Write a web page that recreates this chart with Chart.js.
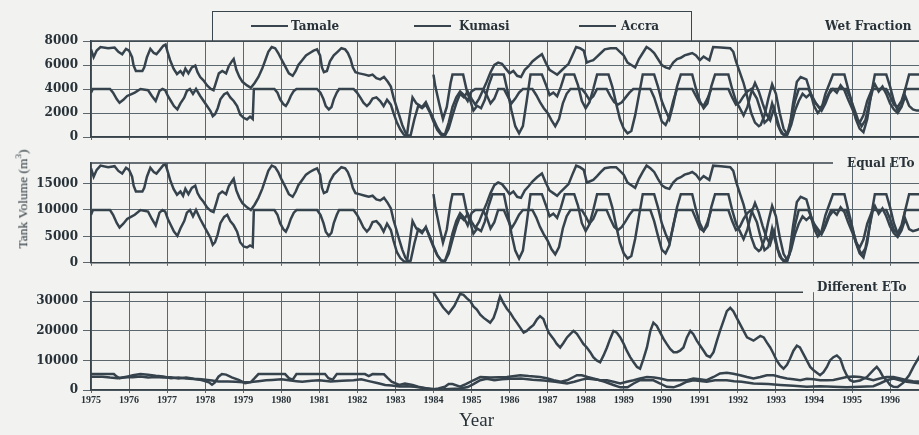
<!DOCTYPE html>
<html><head><meta charset="utf-8">
<script src="https://cdn.jsdelivr.net/npm/chart.js@4.4.1/dist/chart.umd.min.js"></script>
<style>
html,body{margin:0;padding:0;background:#f2f3f1;width:919px;height:435px;overflow:hidden;position:relative;}
.pc{position:absolute;left:0;}
.t{position:absolute;white-space:nowrap;color:#283238;font-family:"DejaVu Serif",serif;font-weight:bold;font-size:12px;line-height:14px;}
#legend{position:absolute;left:212px;top:11px;width:480px;height:30px;border:1.5px solid #3a454c;border-bottom:none;box-sizing:border-box;}
.ls{position:absolute;height:2px;background:#38454f;}
#ytitle{position:absolute;left:22px;top:199px;transform:translate(-50%,-50%) rotate(-90deg);font-family:"Liberation Serif",serif;font-size:13.5px;color:#283238;white-space:nowrap;}
#xtitle{position:absolute;left:459px;top:409px;font-family:"Liberation Serif",serif;font-size:19px;color:#283238;}
</style></head><body>
<canvas id="c1" class="pc" width="919" height="150" style="top:0px"></canvas>
<canvas id="c2" class="pc" width="919" height="125" style="top:150px"></canvas>
<canvas id="c3" class="pc" width="919" height="130" style="top:280px"></canvas>
<div id="legend"></div>
<div id="ytitle">Tank Volume (m<sup style="font-size:9px">3</sup>)</div>
<div id="xtitle">Year</div>
<script>
// ---------- data ----------
const seriesNames = ['Tamale', 'Kumasi', 'Accra'];
const panelTitles = ['Wet Fraction', 'Equal ETo', 'Different ETo'];
const yearTicks = [1975,1976,1977,1978,1979,1980,1981,1982,1983,1984,1985,1986,1987,1988,1989,1990,1991,1992,1993,1994,1995,1996];
const wetTicks = [0, 2000, 4000, 6000, 8000];
const equalTicks = [0, 5000, 10000, 15000];
const diffTicks = [0, 10000, 20000, 30000];

const tamaleYears = [
1975.00,1975.05,1975.50,1975.58,1975.68,1975.75,1975.85,1975.95,
1976.05,1976.15,1976.30,1976.50,1976.60,1976.70,1976.80,1976.88,1976.95,
1977.02,1977.10,1977.18,1977.27,1977.35,1977.45,1977.52,1977.60,1977.68,1977.76,1977.87,1977.96,
1978.05,1978.14,1978.20,1978.26,1978.33,1978.40,1978.50,1978.58,1978.66,1978.75,1978.84,1978.92,
1979.01,1979.10,1979.18,1979.25,1979.28,1979.82,1979.90,1979.97,
1980.06,1980.12,1980.18,1980.25,1980.33,1980.40,1980.94,
1981.03,1981.11,1981.17,1981.25,1981.32,1981.38,1981.46,1981.52,1981.90,1981.99,
1982.08,1982.16,1982.25,1982.32,1982.40,1982.50,1982.60,1982.69,1982.78,1982.88,1982.95,
1983.04,1983.13,1983.22,1983.30,1983.36,1983.45,1983.55,1983.70,1983.80,1983.90,
1984.00,1984.10,1984.20,1984.30,1984.40,1984.50,1984.60,1984.70,1984.80,1984.90,
1985.00,1985.10,1985.30,1985.40,1985.50,1985.60,1985.70,1985.85,1985.95,
1986.05,1986.15,1986.25,1986.35,1986.60,1986.70,1986.80,1986.90,
1987.00,1987.10,1987.20,1987.30,1987.40,1987.50,1987.60,1987.90,
1988.00,1988.10,1988.20,1988.30,1988.55,1988.65,1988.75,1988.85,1988.95,
1989.05,1989.15,1989.25,1989.70,1989.80,1989.90,
1990.00,1990.10,1990.20,1990.30,1990.40,1990.80,1990.90,
1991.00,1991.10,1991.20,1991.30,1991.75,1991.85,1991.95,
1992.05,1992.15,1992.25,1992.35,1992.50,1992.60,1992.70,1992.80,1992.90,
1993.00,1993.10,1993.20,1993.30,1993.40,1993.50,1993.60,1993.85,1993.95,
1994.05,1994.15,1994.25,1994.35,1994.45,1994.85,1994.95,
1995.05,1995.15,1995.25,1995.35,1995.45,1995.55,1995.90,
1996.00,1996.10,1996.20,1996.30,1996.40,1996.80];
const tamaleWet = [
3700,4000,4000,3700,3140,2860,3100,3420,
3560,3700,4000,3900,3420,3000,3840,4000,3900,
3420,3000,2580,2300,2800,3280,3840,4000,3600,4000,3420,3000,
2580,2160,1740,1900,2400,3140,3560,3700,3300,3000,2580,1880,
1600,1460,1700,1500,4000,4000,3700,3140,
2720,2580,2900,3420,3840,4000,4000,
3700,3140,2580,2300,2500,3140,3700,4000,4000,3700,
3280,2860,2580,2800,3200,3300,3000,2580,3100,2700,2000,
1200,620,200,80,1500,3300,2800,2500,2900,2200,
1500,800,300,200,1200,2500,3300,3800,3500,3000,
3800,4000,4000,3500,2800,3200,4000,4000,3400,
2800,3200,3700,4000,4000,3500,2900,2400,
2000,1400,900,1500,2800,3600,4000,4000,
3600,3100,3400,4000,4000,3400,2900,2700,2900,
3300,3700,4000,4000,3300,2300,
1300,1000,1700,3000,4000,4000,3400,
2800,2600,3200,4000,4000,3300,2700,
2900,3400,3800,4000,3200,2200,1200,1500,2800,
1800,700,200,300,1500,3000,4000,4000,3400,
2800,2400,2700,3400,4000,4000,3300,
2400,1500,900,1400,2800,4000,4000,
3400,2700,2500,3000,4000,4000];
const tamaleEqual = [
9100,10000,10000,9100,7500,6700,7400,8300,
8700,9100,10000,9700,8300,7100,9500,10000,9700,
8300,7100,5900,5100,6500,7900,9500,10000,8800,10000,8300,7100,
5900,4700,3400,3900,5400,7500,8700,9100,7900,7100,5900,3900,
3100,2900,3300,3000,10000,10000,9100,7500,
6300,5900,6800,8300,9500,10000,10000,
9100,7500,5900,5100,5700,7500,9100,10000,10000,9100,
7900,6700,5900,6500,7700,7900,7100,5900,7400,6200,4200,
2000,900,300,100,3000,7900,6500,5600,6800,4800,
3000,1400,400,300,2400,5600,7900,9400,8600,7100,
9400,10000,10000,8600,6500,7700,10000,10000,8300,
6500,7700,9100,10000,10000,8600,6800,5400,
4200,2600,1600,3000,6500,8800,10000,10000,
8800,7400,8300,10000,10000,8300,6800,6200,6800,
7900,9100,10000,10000,7900,5100,
2500,1800,3300,7100,10000,10000,8300,
6500,6000,7700,10000,10000,7900,6200,
6800,8300,9400,10000,7700,4800,2400,3000,6500,
3600,1200,300,400,3000,7100,10000,10000,8300,
6500,5400,6200,8300,10000,10000,7900,
5400,3000,1600,2700,6500,10000,10000,
8300,6200,5600,7100,10000,10000];

const kumasiYears = [
1975.00,1975.07,1975.15,1975.25,1975.45,1975.62,1975.72,1975.82,1975.92,
1976.00,1976.08,1976.12,1976.18,1976.35,1976.40,1976.47,1976.56,1976.65,1976.72,1976.80,1976.90,1976.96,
1977.02,1977.08,1977.17,1977.26,1977.35,1977.42,1977.48,1977.56,1977.65,1977.74,1977.80,1977.87,1977.96,
1978.05,1978.15,1978.22,1978.30,1978.36,1978.45,1978.55,1978.62,1978.70,1978.75,1978.82,1978.90,1978.98,
1979.10,1979.20,1979.30,1979.40,1979.50,1979.58,1979.66,1979.75,1979.84,1979.92,
1980.00,1980.10,1980.20,1980.30,1980.38,1980.45,1980.55,1980.65,1980.75,1980.85,1980.94,
1981.02,1981.07,1981.12,1981.20,1981.28,1981.38,1981.48,1981.58,1981.68,1981.75,1981.82,1981.88,1981.95,
1982.05,1982.20,1982.30,1982.40,1982.50,1982.60,1982.70,1982.80,1982.88,1982.95,
1983.02,1983.10,1983.18,1983.26,1983.33,1983.40,1983.50,1983.60,1983.70,1983.80,1983.90,
1984.00,1984.10,1984.20,1984.30,1984.40,1984.50,1984.60,1984.70,1984.80,1984.90,
1985.00,1985.10,1985.20,1985.30,1985.40,1985.50,1985.60,1985.70,1985.80,1985.90,
1986.00,1986.10,1986.20,1986.30,1986.40,1986.50,1986.60,1986.72,1986.85,1986.95,
1987.05,1987.15,1987.25,1987.35,1987.45,1987.55,1987.65,1987.75,1987.85,1987.95,
1988.03,1988.10,1988.20,1988.30,1988.40,1988.50,1988.65,1988.80,1988.90,
1989.00,1989.10,1989.20,1989.30,1989.40,1989.50,1989.60,1989.70,1989.80,1989.90,
1990.00,1990.10,1990.20,1990.30,1990.40,1990.50,1990.60,1990.70,1990.80,1990.90,
1991.00,1991.10,1991.25,1991.35,1991.55,1991.80,1991.88,1991.95,
1992.05,1992.15,1992.25,1992.35,1992.45,1992.55,1992.60,1992.70,1992.80,1992.90,
1993.00,1993.10,1993.20,1993.30,1993.40,1993.50,1993.60,1993.70,1993.80,1993.90,
1994.00,1994.10,1994.20,1994.30,1994.40,1994.50,1994.60,1994.70,1994.80,1994.90,
1995.00,1995.10,1995.20,1995.30,1995.40,1995.50,1995.60,1995.70,1995.80,1995.90,
1996.00,1996.10,1996.20,1996.30,1996.40,1996.50,1996.60,1996.70,1996.80];
const kumasiWet = [
7300,6650,7200,7500,7400,7450,7100,6900,7350,
7200,6650,5950,5500,5500,5800,6650,7350,7000,6900,7200,7600,7700,
7000,6400,5700,5250,5500,5200,5700,5300,5800,5950,5400,5000,4700,
4300,4000,3900,4700,5300,5500,5300,5900,6300,6500,5600,5000,4600,
4300,4100,4500,5000,5700,6400,7100,7500,7400,7000,
6500,5900,5300,5100,5500,6000,6400,6800,7000,7200,7300,
6800,5800,5400,5500,6300,6800,7100,7400,7300,7000,6500,5800,5400,
5300,5200,5100,5200,4900,4800,5000,4600,4200,3300,
2600,1800,1000,400,100,150,1500,2600,2400,2700,2100,
1300,600,200,100,700,1800,2800,3600,3300,3800,
3200,2700,3200,3900,4600,5400,6000,6200,6100,5700,
5300,5500,5100,5000,5600,5900,6300,6600,6900,6200,
5600,5400,5200,5500,5800,6100,6800,7500,7400,7200,
6200,6300,6400,6700,7000,7300,7400,7400,7100,
6800,6200,6000,5800,6500,7000,7500,7300,7000,6500,
6000,5800,5700,6200,6500,6600,6800,6900,7000,6800,
6400,6700,6400,7500,7450,7400,7100,6300,
5400,4500,3300,2000,1200,900,1000,1800,3200,4400,
3600,2000,700,200,1000,2200,3000,3600,3300,3600,
3000,2600,2200,2800,3600,4000,3700,4300,3900,3100,
2400,1600,1200,1800,3000,3800,4400,3800,4200,3600,
2800,2300,2000,2500,3400,2600,2300,2200,2200];
const kumasiEqual = [
17900,16300,17600,18400,18100,18300,17400,16900,18000,
17600,16300,14600,13500,13500,14200,16300,18000,17200,16900,17600,18500,18600,
17200,15700,14000,12900,13500,12700,14000,13000,14200,14600,13200,12300,11500,
10500,9800,9600,11500,13000,13500,13000,14500,15400,15900,13700,12300,11300,
10500,10000,11000,12300,14000,15700,17400,18400,18100,17200,
15900,14500,13000,12500,13500,14700,15700,16700,17200,17600,17900,
16700,14200,13200,13500,15400,16700,17400,18100,17900,17200,15900,14200,13200,
13000,12700,12500,12700,12000,11800,12300,11300,10300,8100,
6400,4400,2500,1000,300,400,3700,6400,5900,6600,5100,
3200,1500,500,300,1700,4400,6900,8800,8100,9300,
7800,6600,7800,9600,11300,13200,14700,15200,14900,14000,
13000,13500,12500,12300,13700,14500,15400,16200,16900,15200,
13700,13200,12700,13500,14200,14900,16700,18400,18100,17600,
15200,15400,15700,16400,17200,17900,18100,18100,17400,
16700,15200,14700,14200,15900,17200,18400,17900,17200,15900,
14700,14200,14000,15200,15900,16200,16700,16900,17200,16700,
15700,16400,15700,18400,18300,18100,17400,15400,
13200,11000,8100,4900,2900,2200,2500,4400,7800,10800,
8800,4900,1700,500,2500,5400,7400,8800,8100,8800,
7400,6400,5400,6900,8800,9800,9100,10500,9600,7600,
5900,3900,2900,4400,7400,9300,10800,9300,10300,8800,
6900,5600,4900,6100,8300,6400,6000,6200,6500];

const accraYears = [
1984.00,1984.05,1984.15,1984.25,1984.35,1984.45,1984.50,1984.78,1984.88,1984.98,
1985.05,1985.15,1985.25,1985.35,1985.45,1985.55,1985.85,1985.95,
1986.05,1986.15,1986.25,1986.35,1986.45,1986.55,1986.85,1986.95,
1987.05,1987.15,1987.25,1987.35,1987.45,1987.70,1987.80,1987.90,
1988.00,1988.10,1988.20,1988.30,1988.60,1988.70,1988.80,1988.90,
1989.00,1989.10,1989.20,1989.30,1989.40,1989.50,1989.80,1989.90,
1990.00,1990.10,1990.20,1990.30,1990.40,1990.50,1990.80,1990.90,
1991.00,1991.10,1991.20,1991.30,1991.40,1991.75,1991.85,1991.95,
1992.05,1992.15,1992.25,1992.35,1992.45,1992.55,1992.65,1992.75,1992.85,1992.95,
1993.05,1993.15,1993.25,1993.35,1993.45,1993.55,1993.65,1993.80,1993.90,
1994.00,1994.10,1994.20,1994.30,1994.40,1994.50,1994.80,1994.90,
1995.00,1995.10,1995.20,1995.30,1995.40,1995.50,1995.60,1995.90,
1996.00,1996.10,1996.20,1996.30,1996.40,1996.50,1996.80];
const accraWet = [
5200,4200,2800,1500,2500,4500,5200,5200,3800,2900,
2200,2600,2400,3100,4300,5200,5200,3800,
2200,900,300,900,3000,5200,5200,4400,
3500,3700,3400,4200,5200,5200,4300,3000,
2400,2900,4000,5200,5200,4200,2800,1500,
700,300,500,1800,3500,5200,5200,4200,
3000,2200,1500,2700,4200,5200,5200,4000,
3000,2400,2800,4200,5200,5200,4000,3000,
2400,1800,2500,3700,4500,3800,2800,1900,1400,2400,
1000,300,100,600,2800,4600,5000,4800,3800,
2600,2000,2400,3600,4400,5200,5200,4000,
2800,1500,700,400,1500,3500,5200,5200,
4200,3000,2200,2600,4000,5200,5200];
const accraEqual = [
13000,10500,7000,3800,6300,11300,13000,13000,9500,7300,
5500,6500,6000,7800,10800,13000,13000,9500,
5500,2300,800,2300,7500,13000,13000,11000,
8800,9300,8500,10500,13000,13000,10800,7500,
6000,7300,10000,13000,13000,10500,7000,3800,
1800,800,1300,4500,8800,13000,13000,10500,
7500,5500,3800,6800,10500,13000,13000,10000,
7500,6000,7000,10500,13000,13000,10000,7500,
6000,4500,6300,9300,11300,9500,7000,4800,3500,6000,
2500,800,300,1500,7000,11500,12500,12000,9500,
6500,5000,6000,9000,11000,13000,13000,10000,
7000,3800,1800,1000,3800,8800,13000,13000,
10500,7500,5500,6500,10000,13000,13000];

const tamaleDiffYears = [
1975.00,1975.60,1975.68,1975.75,1975.90,1976.10,1976.30,1976.50,1976.70,1976.90,
1977.10,1977.30,1977.50,1977.70,1977.90,1978.10,1978.18,1978.25,1978.35,1978.44,1978.55,1978.70,1978.88,
1979.05,1979.20,1979.30,1979.40,1980.10,1980.20,1980.30,1980.40,1981.15,1981.24,1981.35,1981.46,
1982.20,1982.30,1982.40,1982.70,1982.80,1982.90,1983.10,1983.25,1983.45,1983.60,1983.78,1983.96,
1984.13,1984.30,1984.40,1984.50,1984.70,1984.85,1985.05,1985.23,1985.50,1985.93,
1986.28,1986.50,1986.80,1986.98,1987.16,1987.35,1987.51,1987.68,1987.77,1987.90,
1988.05,1988.20,1988.38,1988.56,1988.73,1988.91,1989.08,1989.26,1989.43,1989.61,1989.80,1989.96,
1990.15,1990.31,1990.66,1990.83,1991.00,1991.18,1991.36,1991.53,1991.71,1991.88,
1992.06,1992.24,1992.41,1992.59,1992.76,1992.94,1993.11,1993.29,1993.46,1993.64,1993.81,1993.99,
1994.16,1994.34,1994.51,1994.69,1994.86,1995.04,1995.21,1995.39,1995.56,1995.73,1995.91,
1996.09,1996.26,1996.44,1996.60,1996.80];
const tamaleDiff = [
5400,5400,4500,4000,4300,5000,5400,5200,4800,4600,
4000,4200,3900,3700,3400,2600,1800,2500,4500,5400,5200,4300,3400,
2300,2700,4000,5400,5400,4000,3500,5400,5400,4000,3500,5400,
5400,4700,5400,5300,4000,2800,1700,2200,1700,1100,600,200,
500,1100,2000,2000,1100,2000,3300,4400,4200,4400,
5000,4700,4400,4000,3300,2800,3300,4400,5000,5000,
4400,3900,3300,3300,2800,2200,2800,3300,3900,4400,4200,3900,
3300,3300,3300,3900,3600,3300,4400,5600,5800,5500,
5000,4400,3900,4400,5000,5000,4400,3900,3600,3300,3800,3600,
3300,3300,3400,3900,4400,4600,4400,3900,3300,3900,4400,
4400,3900,3300,3000,2800];

const kumasiDiffYears = [
1975.00,1975.30,1975.50,1975.70,1975.90,1976.10,1976.30,1976.50,1976.70,1976.90,
1977.10,1977.30,1977.50,1977.70,1977.90,1978.18,1978.35,1978.60,1978.80,
1979.00,1979.20,1979.40,1979.60,1979.76,1980.00,1980.20,1980.40,1980.55,1980.80,
1981.00,1981.30,1981.60,1981.90,1982.10,1982.30,1982.55,1982.73,1982.90,
1983.10,1983.30,1983.50,1983.70,1983.87,1984.00,1984.20,1984.40,1984.70,1984.90,
1985.05,1985.23,1985.40,1985.60,1985.80,1986.00,1986.30,1986.60,1986.90,
1987.20,1987.51,1987.70,1987.90,1988.03,1988.30,1988.50,1988.73,1988.91,
1989.10,1989.26,1989.43,1989.78,1989.96,1990.13,1990.31,1990.48,1990.66,1990.83,
1991.18,1991.40,1991.71,1991.90,1992.10,1992.41,1992.80,
1993.11,1993.46,1993.81,1994.16,1994.51,1994.86,1995.21,1995.56,1995.73,1995.91,
1996.09,1996.26,1996.44,1996.80];
const kumasiDiff = [
4500,4500,4200,4000,4400,4300,4600,4200,4400,4200,
4300,3900,4200,3800,3600,3200,2900,2900,2800,
2600,2700,3000,3300,3400,3600,3300,3000,2800,3100,
3300,2900,3100,3300,3600,3000,2300,1700,1500,
1200,1300,1100,800,500,300,200,300,500,1000,
2000,3300,3800,3300,3600,3800,3900,3500,3200,
2800,2200,2800,3500,3900,3500,2800,1700,900,
900,2200,3300,3300,2200,1100,900,1700,2800,3300,
2800,3300,3300,3000,2800,2200,2000,
1700,1400,1100,1300,1100,900,1100,1300,2200,3300,
3900,3300,2800,2200];

const accraDiffYears = [
1984.00,1984.10,1984.25,1984.40,1984.55,1984.70,1984.79,1984.88,1984.97,
1985.05,1985.14,1985.23,1985.32,1985.49,1985.58,1985.67,1985.71,1985.75,1985.84,1985.93,
1986.02,1986.10,1986.19,1986.28,1986.37,1986.45,1986.54,1986.63,1986.72,1986.80,1986.89,1986.94,
1987.03,1987.16,1987.24,1987.33,1987.42,1987.51,1987.60,1987.68,1987.77,1987.86,1987.94,
1988.03,1988.12,1988.20,1988.29,1988.38,1988.47,1988.56,1988.64,1988.73,1988.82,1988.91,
1989.00,1989.08,1989.17,1989.26,1989.35,1989.43,1989.52,1989.61,1989.70,1989.78,1989.87,1989.96,
1990.05,1990.13,1990.22,1990.31,1990.40,1990.48,1990.57,1990.66,1990.75,1990.83,1990.92,
1991.01,1991.10,1991.18,1991.27,1991.36,1991.45,1991.53,1991.62,1991.71,1991.80,1991.88,1991.97,
1992.06,1992.15,1992.24,1992.41,1992.50,1992.59,1992.68,1992.76,1992.85,1992.94,
1993.02,1993.11,1993.20,1993.29,1993.37,1993.46,1993.55,1993.63,1993.72,1993.81,1993.90,1993.99,
1994.16,1994.25,1994.34,1994.42,1994.51,1994.60,1994.69,1994.78,1994.86,1994.95,
1995.04,1995.21,1995.39,1995.56,1995.65,1995.73,1995.82,1995.91,
1996.00,1996.09,1996.20,1996.35,1996.50,1996.62,1996.80];
const accraDiff = [
33000,31000,28000,25900,28500,32500,32200,31000,30000,
28300,27200,25500,24400,22800,24400,27800,30000,31700,29400,27500,
26100,24400,22800,21100,19400,20000,21100,22000,23900,25000,24000,22200,
19400,17200,15600,14400,16000,17800,19000,20000,19000,17200,15600,
14400,12800,11100,10000,9400,11700,14400,17200,20000,19400,17800,
15600,13300,11100,9400,7800,7200,10600,14400,20000,22800,21700,19400,
17200,15600,13900,12800,12800,13300,14400,17800,20000,18900,16700,
15000,13300,11700,11100,12800,16700,20000,23300,26700,27800,26700,24400,
22200,20000,17800,16700,17500,18300,17800,16100,14400,12200,
10000,8300,7200,8500,10600,13300,15000,14400,12200,10000,7800,6700,
5000,6000,7800,10000,11100,11700,10600,7200,5000,3300,
2800,3200,4400,6700,7800,6500,4400,3300,
1700,1100,1000,2500,5000,8000,12000];

// ---------- drawing ----------
const LINE = '#36434d', GRID = '#5b666d', AXIS = '#38434a', TXT = '#283238';
const pts = (xs, ys) => xs.map((x, i) => ({x: x, y: ys[i]}));

const panels = [
  {id: 'c1', padTop: 41, xH: 13, yMax: 8000, ticks: wetTicks, showX: false, borderEnd: 919,
   series: [[tamaleYears, tamaleWet], [kumasiYears, kumasiWet], [accraYears, accraWet]]},
  {id: 'c2', padTop: 13, xH: 12, yMax: 18900, ticks: equalTicks, showX: false, borderEnd: 833,
   series: [[tamaleYears, tamaleEqual], [kumasiYears, kumasiEqual], [accraYears, accraEqual]]},
  {id: 'c3', padTop: 11, xH: 20, yMax: 33100, ticks: diffTicks, showX: true, borderEnd: 803,
   series: [[tamaleDiffYears, tamaleDiff], [kumasiDiffYears, kumasiDiff], [accraDiffYears, accraDiff]]}
];

const topBorder = {
  id: 'topBorder',
  beforeDatasetsDraw(chart, args, opts) {
    const a = chart.chartArea, ctx = chart.ctx;
    ctx.save();
    ctx.strokeStyle = AXIS; ctx.lineWidth = 1.5;
    ctx.beginPath(); ctx.moveTo(a.left, a.top); ctx.lineTo(opts.end, a.top); ctx.stroke();
    ctx.restore();
  }
};

panels.forEach(p => {
  new Chart(document.getElementById(p.id), {
    type: 'line',
    data: {
      datasets: p.series.map((s, i) => ({
        label: seriesNames[i], data: pts(s[0], s[1]),
        borderColor: LINE, borderWidth: 2.5, pointRadius: 0, tension: 0, fill: false
      }))
    },
    options: {
      responsive: false, animation: false, devicePixelRatio: 1,
      layout: {padding: {top: p.padTop, left: 0, right: 0, bottom: 0}},
      plugins: {legend: {display: false}, tooltip: {enabled: false}, topBorder: {end: p.borderEnd}},
      scales: {
        x: {
          type: 'linear', min: 1975, max: 1996.76,
          afterBuildTicks: s => { s.ticks = yearTicks.map(v => ({value: v})); },
          afterFit: s => { s.height = p.xH; },
          grid: {color: GRID, lineWidth: 1, tickLength: 3, drawTicks: true},
          border: {display: true, color: AXIS, width: 1.5},
          ticks: {display: p.showX, autoSkip: false, maxRotation: 0, padding: 1, color: TXT,
                  font: {family: 'Liberation Serif', weight: 'bold', size: 10},
                  callback: v => String(v)}
        },
        y: {
          min: 0, max: p.yMax,
          afterBuildTicks: s => { s.ticks = p.ticks.map(v => ({value: v})); },
          afterFit: s => { s.width = 91; },
          grid: {color: GRID, lineWidth: 1, tickLength: 8, drawTicks: true},
          border: {display: true, color: AXIS, width: 1.5},
          ticks: {padding: 5, color: TXT, font: {family: 'DejaVu Serif', weight: 'bold', size: 12},
                  callback: v => String(v)}
        }
      }
    },
    plugins: [topBorder]
  });
});

// legend and titles (text)
const legend = document.getElementById('legend');
const legendPos = [[250, 290], [413, 458], [578, 620]];
seriesNames.forEach((n, i) => {
  const ln = document.createElement('div'); ln.className = 'ls';
  ln.style.left = (legendPos[i][0] - 212) + 'px'; ln.style.width = '37px'; ln.style.top = '13px';
  legend.appendChild(ln);
  const t = document.createElement('div'); t.className = 't'; t.textContent = n;
  t.style.left = (legendPos[i][1] - 212) + 'px'; t.style.top = '7px';
  legend.appendChild(t);
});
const titlePos = [[825, 19], [847, 156], [817, 280]];
panelTitles.forEach((n, i) => {
  const t = document.createElement('div'); t.className = 't'; t.textContent = n;
  t.style.left = titlePos[i][0] + 'px'; t.style.top = titlePos[i][1] + 'px';
  document.body.appendChild(t);
});
</script>
</body></html>
